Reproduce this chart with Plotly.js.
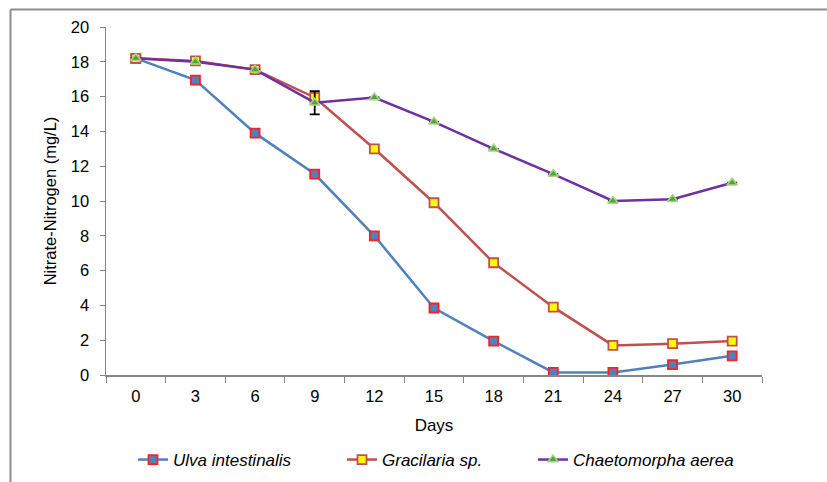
<!DOCTYPE html>
<html>
<head>
<meta charset="utf-8">
<script src="https://cdn.plot.ly/plotly-3.0.1.min.js"></script>
<style>
html,body{margin:0;padding:0;background:#fff;}
#chart{width:827px;height:482px;}
</style>
</head>
<body>
<div id="chart"></div>
<script>
const days = ["0","3","6","9","12","15","18","21","24","27","30"];
const ulva = [18.2, 16.95, 13.9, 11.55, 8.0, 3.85, 1.95, 0.15, 0.15, 0.6, 1.1];
const gracilaria = [18.2, 18.05, 17.55, 15.95, 13.0, 9.9, 6.45, 3.9, 1.7, 1.8, 1.95];
const chaeto = [18.2, 18.0, 17.55, 15.65, 15.95, 14.55, 13.0, 11.55, 10.0, 10.1, 11.05];
const chaetoErr = [0, 0, 0, 0.67, 0, 0, 0, 0, 0, 0, 0];
const seriesNames = ["Ulva intestinalis", "Gracilaria sp.", "Chaetomorpha aerea"];

const traces = [
  {
    x: days, y: ulva, name: "<i>" + seriesNames[0] + "</i>", type: "scatter", mode: "lines+markers",
    legend: "legend",
    line: {color: "#4F81BD", width: 2.5},
    marker: {symbol: "square", size: 9, color: "#4F81BD", line: {color: "#FF2020", width: 1.8}}
  },
  {
    x: days, y: gracilaria, name: "<i>" + seriesNames[1] + "</i>", type: "scatter", mode: "lines+markers",
    legend: "legend2",
    line: {color: "#C0504D", width: 2.5},
    marker: {symbol: "square", size: 9, color: "#FFFF00", line: {color: "#C0504D", width: 1.8}}
  },
  {
    x: days, y: chaeto, name: "<i>" + seriesNames[2] + "</i>", type: "scatter", mode: "lines+markers",
    legend: "legend3",
    line: {color: "#7030A0", width: 2.5},
    marker: {symbol: "triangle-up", size: 9, color: "#4EA72E", line: {color: "#A9D08E", width: 1.5}},
    error_y: {type: "data", array: chaetoErr, visible: true, color: "#000", thickness: 1.8, width: 5}
  }
];

function leg(px) {
  return {orientation: "h", xref: "container", yref: "container", x: px / 827, xanchor: "left",
          y: 1 - 460 / 482, yanchor: "middle", font: {size: 17}, bgcolor: "rgba(0,0,0,0)", borderwidth: 0};
}

const bx = -0.1456, by = 1.0503;
const layout = {
  width: 827, height: 482,
  margin: {l: 106, r: 65, t: 27, b: 107},
  paper_bgcolor: "#fff", plot_bgcolor: "#fff",
  font: {family: "Liberation Sans, Arial, sans-serif", size: 16, color: "#000"},
  showlegend: true,
  legend: leg(133),
  legend2: leg(342),
  legend3: leg(533),
  xaxis: {
    type: "category", range: [-0.5, 10.5], tickson: "boundaries", ticks: "outside", ticklen: 6, tickcolor: "#868686",
    showline: true, linecolor: "#868686", linewidth: 1.5, showgrid: false, zeroline: false,
    automargin: false, ticklabelstandoff: 6,
    tickfont: {size: 16.5},
    title: {text: "Days", font: {size: 17}, standoff: 15}
  },
  yaxis: {
    range: [0, 20], dtick: 2, ticks: "outside", ticklen: 5, tickcolor: "#868686",
    showline: true, linecolor: "#868686", linewidth: 1.5, showgrid: false, zeroline: false,
    automargin: false, ticklabelstandoff: 7,
    tickfont: {size: 16.5},
    title: {text: "Nitrate-Nitrogen (mg/L)", font: {size: 16.5}, standoff: 10}
  },
  shapes: [
    {type: "line", xref: "paper", yref: "paper", x0: bx, x1: bx, y0: -1, y1: by, line: {color: "#8C8C8C", width: 2}},
    {type: "line", xref: "paper", yref: "paper", x0: bx, x1: 2, y0: by, y1: by, line: {color: "#8C8C8C", width: 2}}
  ]
};

Plotly.newPlot("chart", traces, layout, {displayModeBar: false, staticPlot: true});
</script>
</body>
</html>
